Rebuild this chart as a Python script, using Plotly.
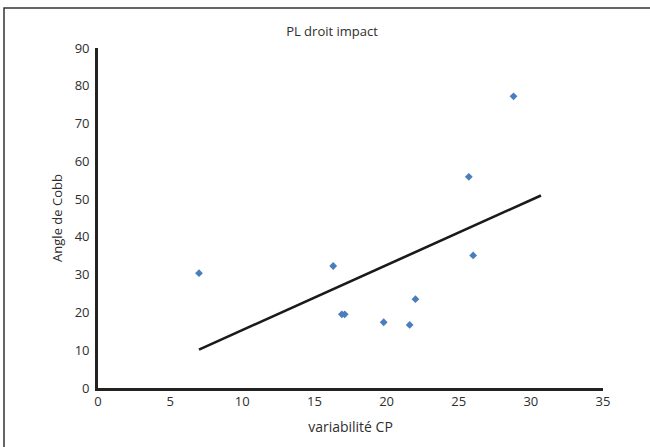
import numpy as np
import plotly.graph_objects as go

variabilite_cp = [7.0, 16.3, 16.9, 17.1, 19.8, 21.6, 22.0, 25.7, 26.0, 28.8]
angle_cobb = [30.4, 32.3, 19.5, 19.5, 17.4, 16.7, 23.5, 55.9, 35.1, 77.2]
trend_x = [7.0, 30.7]

slope, intercept = np.polyfit(variabilite_cp, angle_cobb, 1)
trend_y = [slope * v + intercept for v in trend_x]

font_family = "Open Sans, sans-serif"

fig = go.Figure()
fig.add_trace(go.Scatter(
    x=trend_x, y=trend_y, mode="lines",
    line=dict(color="#1a1a1a", width=2.6), showlegend=False, hoverinfo="skip"))
fig.add_trace(go.Scatter(
    x=variabilite_cp, y=angle_cobb, mode="markers",
    marker=dict(symbol="diamond", size=6, color="#4a7ebb"), showlegend=False))

L, R, T, B = 98, 47, 48, 59
W, H = 650, 447
pw, ph = W - L - R, H - T - B

fig.update_layout(
    width=W, height=H,
    margin=dict(l=L, r=R, t=T, b=B),
    paper_bgcolor="white", plot_bgcolor="white",
    font=dict(family=font_family, size=13, color="#2e2e2e"),
    title=dict(text="PL droit impact", x=332 / W, xanchor="center",
               y=1 - 31 / H, yanchor="middle", font=dict(size=13)),
    xaxis=dict(range=[0, 35], tickvals=[0, 5, 10, 15, 20, 25, 30, 35],
               showgrid=False, zeroline=False, showline=True, linecolor="#222222",
               linewidth=2.7, ticks="", ticklen=0, tickfont=dict(size=13),
               title=dict(text="variabilité CP", standoff=13, font=dict(size=14))),
    yaxis=dict(range=[0, 90], tickvals=[0, 10, 20, 30, 40, 50, 60, 70, 80, 90],
               showgrid=False, zeroline=False, showline=True, linecolor="#222222",
               linewidth=2.7, ticks="", ticklen=0, tickfont=dict(size=13),
               ticklabelstandoff=3,
               title=dict(text="Angle de Cobb", standoff=10, font=dict(size=13))),
    shapes=[dict(type="rect", xref="paper", yref="paper",
                 x0=(4 - L) / pw, x1=(W + 20 - L) / pw,
                 y0=(T + ph - (H + 20)) / ph, y1=(T + ph - 8) / ph,
                 line=dict(color="#333333", width=1.5), fillcolor="rgba(0,0,0,0)",
                 layer="below")],
)

fig.write_html("out.html", config={"displayModeBar": False},
               post_script="document.body.style.margin='0';document.body.style.overflow='hidden';")
